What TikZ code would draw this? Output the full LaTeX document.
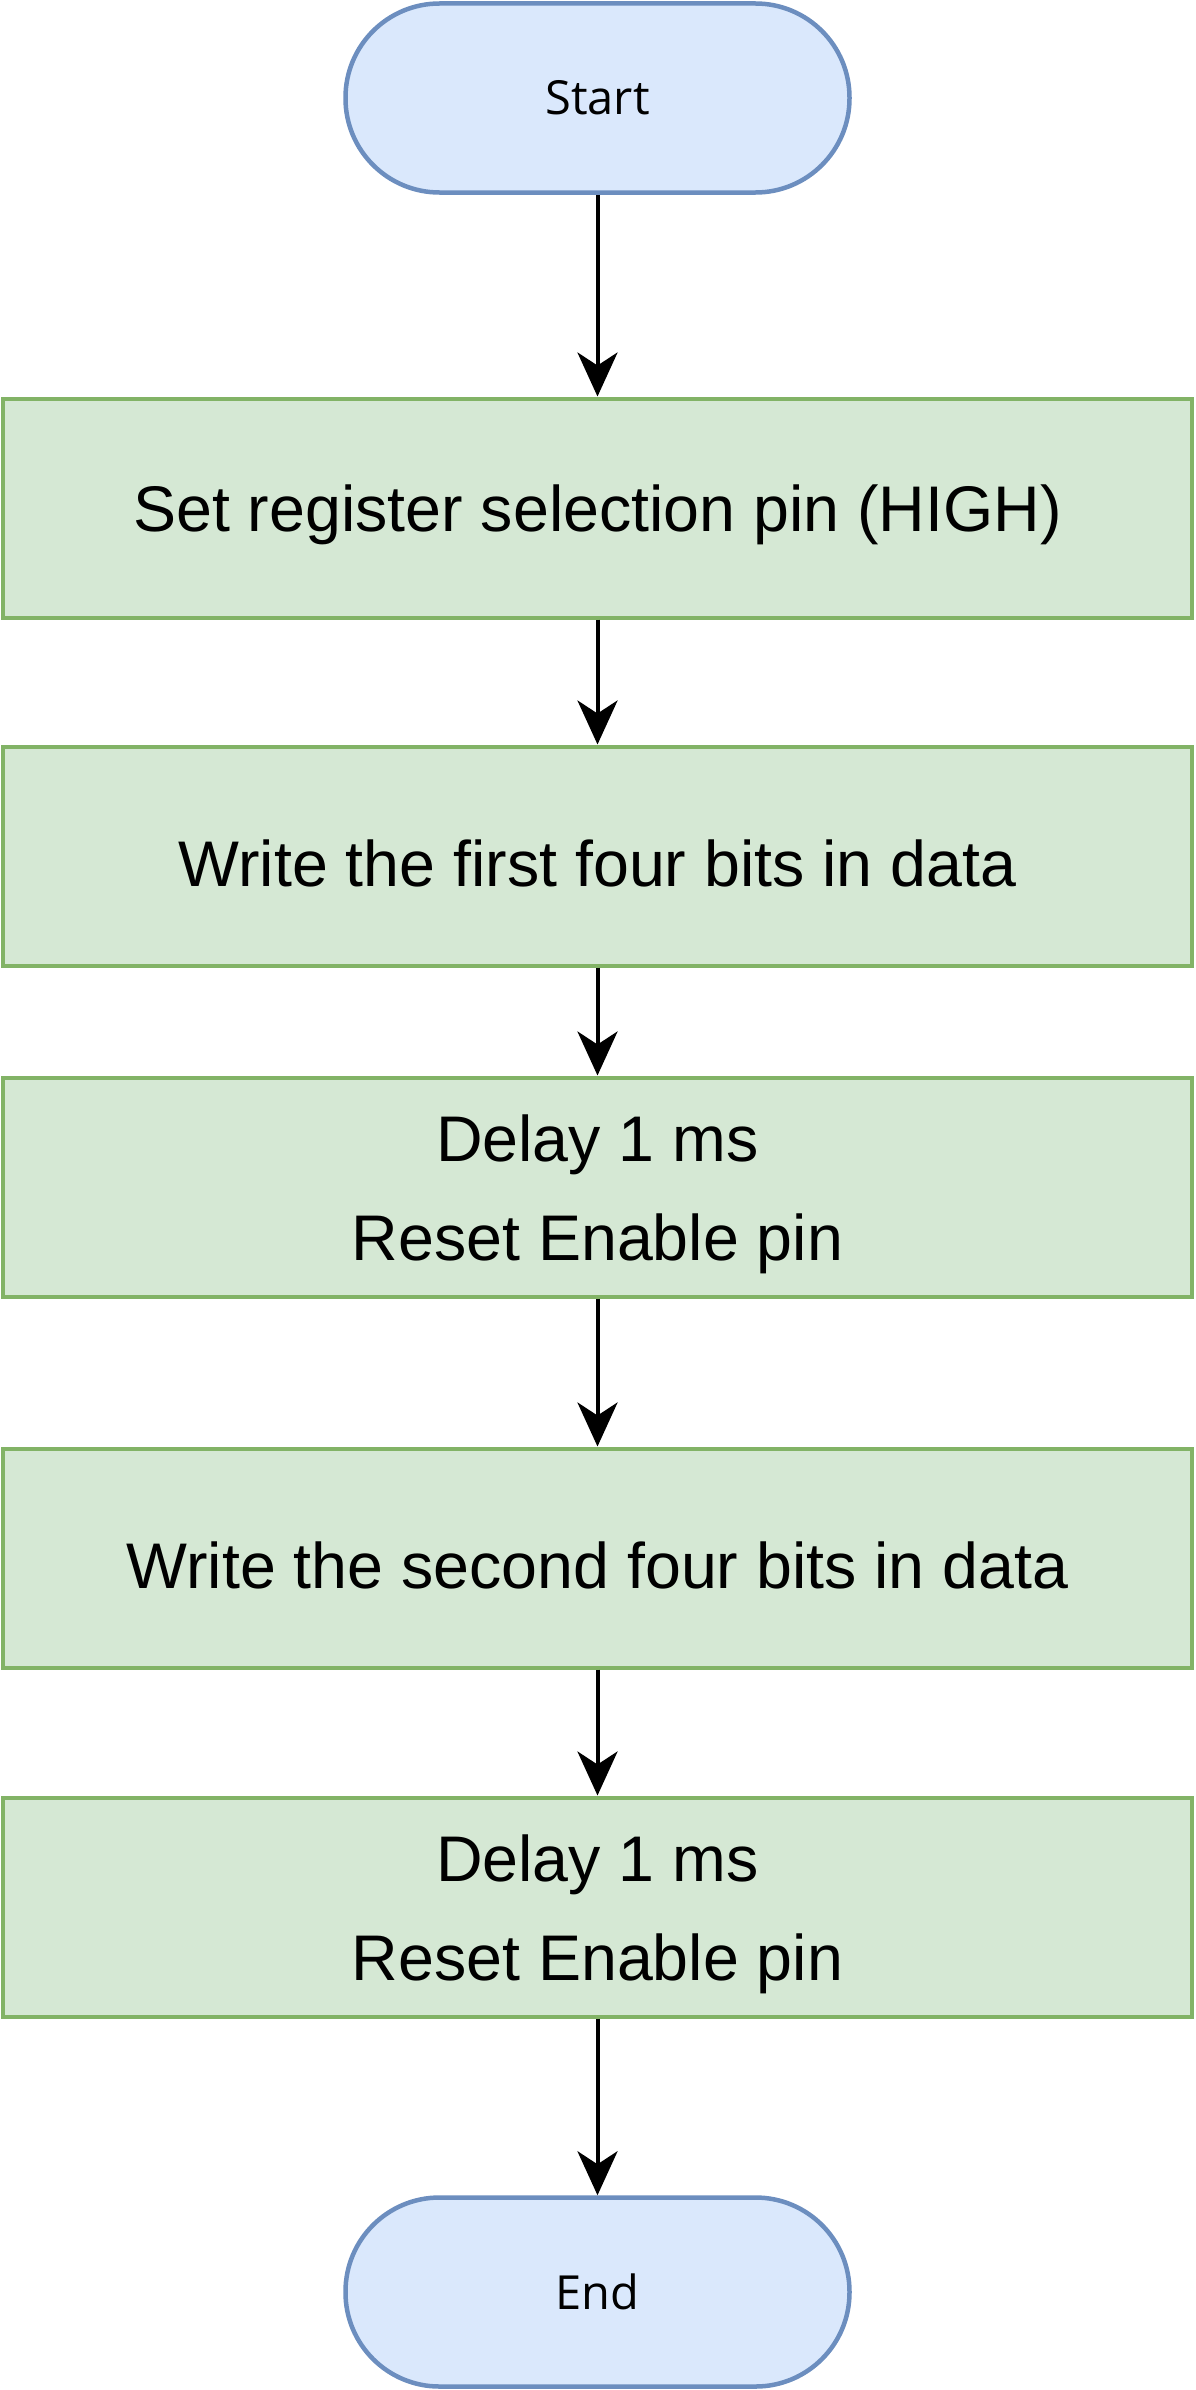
\documentclass[tikz,border=0pt]{standalone}
\usepackage{fontspec}
\setmainfont{Liberation Sans}
\newfontfamily\termfont{Open Sans}
\usetikzlibrary{arrows.meta}
\definecolor{greenF}{HTML}{D5E8D4}
\definecolor{greenS}{HTML}{82B366}
\definecolor{blueF}{HTML}{DAE8FC}
\definecolor{blueS}{HTML}{6C8EBF}
\newcommand{\lowr}[1]{\raisebox{-7pt}[\height][\depth]{#1}}
\tikzset{
  termbox/.style={rectangle, rounded corners=94pt, minimum width=504pt, minimum height=189pt,
    draw=blueS, fill=blueF, line width=4.5pt, inner sep=0pt,
    font=\termfont\fontsize{47}{56}\selectfont},
  procbox/.style={rectangle, minimum width=1189pt, minimum height=219pt,
    draw=greenS, fill=greenF, line width=4pt, inner sep=0pt, align=center,
    font=\fontsize{64.5}{99}\selectfont},
  flowarrow/.style={line width=4pt, draw=black,
    -{Stealth[length=44pt, width=40pt, inset=13pt]}}
}
\begin{document}
\begin{tikzpicture}[x=1pt,y=-1pt]
\useasboundingbox (0,0) rectangle (1195,2390);
\node[termbox] (start) at (597.5,98) {Start};
\node[procbox] (b1) at (597.5,508) {\lowr{Set register selection pin (HIGH)}};
\node[procbox] (b2) at (597.5,856) {\lowr{Write the first four bits in data}};
\node[procbox] (b3) at (597.5,1187) {\lowr{Delay 1 ms}\\\lowr{Reset Enable pin}};
\node[procbox] (b4) at (597.5,1558) {\lowr{Write the second four bits in data}};
\node[procbox] (b5) at (597.5,1907) {\lowr{Delay 1 ms}\\\lowr{Reset Enable pin}};
\node[termbox] (end) at (597.5,2292) {End};
\draw[flowarrow] (start) -- (b1);
\draw[flowarrow] (b1) -- (b2);
\draw[flowarrow] (b2) -- (b3);
\draw[flowarrow] (b3) -- (b4);
\draw[flowarrow] (b4) -- (b5);
\draw[flowarrow] (b5) -- (end);
\end{tikzpicture}
\end{document}
